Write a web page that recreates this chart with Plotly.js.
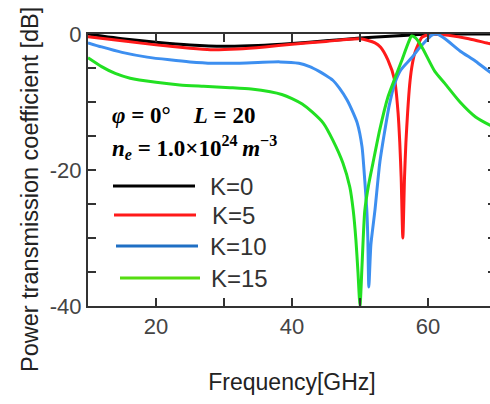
<!DOCTYPE html>
<html>
<head>
<meta charset="utf-8">
<script src="https://cdn.plot.ly/plotly-3.0.1.min.js"></script>
<style>
html,body{margin:0;padding:0;overflow:hidden;background:#fff;}
#chart{width:497px;height:404px;}
</style>
</head>
<body>
<div id="chart"></div>
<script>
// ---- data ----
const seriesNames = ["K=0", "K=5", "K=10", "K=15"];

const freqK0 = [10, 12, 15, 20, 25, 30, 35, 40, 45, 50, 55, 58, 60, 62, 65, 70];
const dbK0   = [0, -0.3, -0.7, -1.2, -1.6, -1.8, -1.7, -1.4, -1.0, -0.6, -0.3, -0.1, 0, 0, 0, 0];

const freqK5 = [10, 15, 20, 25, 28, 32, 36, 40, 45, 50, 52.2, 53, 54.1, 55.1, 55.6, 55.85, 56.05, 56.3, 56.55, 56.75, 57.0, 57.3, 57.6, 58.0, 58.4, 59.1, 60, 61, 63, 66, 69, 70];
const dbK5   = [-0.4, -1.0, -1.6, -2.1, -2.3, -2.2, -1.9, -1.5, -1.1, -0.7, -1.3, -1.9, -3.8, -6.8, -11.6, -16, -21, -30, -21, -16, -11.6, -7.5, -5, -3, -1.9, -0.5, -0.1, 0, -0.2, -0.7, -1.4, -1.6];

const freqK10 = [10, 12, 15, 18.7, 22, 25, 28.4, 32, 35, 38.2, 41, 42.6, 44, 45, 46, 47, 48.1, 49, 49.6, 50.3, 50.7, 51.0, 51.15, 51.3, 51.6, 52.2, 52.9, 53.6, 54.3, 55.1, 56, 57.6, 58.6, 59.6, 60.5, 61.3, 62.5, 64.7, 67, 69.1, 70];
const dbK10   = [-1.3, -1.9, -2.7, -3.4, -3.8, -4.1, -4.3, -4.3, -4.2, -4.1, -4.3, -4.8, -5.5, -6.1, -6.8, -8, -9.7, -11.6, -13.1, -16.6, -21.5, -25.9, -30, -37.2, -31, -25.9, -19, -14.5, -10.5, -7.3, -5.3, -3.5, -2.2, -1.1, -0.2, 0, -0.7, -2.5, -4, -5.6, -6.2];

const freqK15 = [10, 12, 14, 16.2, 20, 23.5, 27, 30.9, 34, 36.8, 38.5, 40, 41.5, 43, 44.6, 46, 47.5, 48.5, 49, 49.4, 49.7, 50, 50.3, 50.7, 51.3, 51.9, 52.9, 54.1, 55.1, 56.1, 57.1, 57.6, 58.2, 59.1, 61, 62.5, 64.7, 67, 69.1, 70];
const dbK15   = [-3.5, -4.8, -5.8, -6.5, -7.1, -7.5, -7.7, -7.9, -8.1, -8.5, -8.9, -9.5, -10.3, -11.5, -13.1, -15.6, -19, -22.5, -25.9, -30.3, -35, -40, -34, -26, -22, -19, -14.1, -9.3, -6.6, -4, -1.3, -0.3, -0.6, -1.9, -5.5, -7.3, -10, -12.2, -13.4, -13.8];

const xTickVals = [10, 20, 30, 40, 50, 60, 70];
const xTickText = ["", "20", "", "40", "", "60", ""];
const yTickVals = [0, -5, -10, -15, -20, -25, -30, -35, -40];
const yTickText = ["0", "", "", "", "-20", "", "", "", "-40"];

const curveColors  = ["#000000", "#ff1a1a", "#3d8ff0", "#22e022"];
const legendColors = ["#000000", "#ff1a1a", "#1f6fc4", "#55dd11"];

// ---- plot ----
const xs = [freqK0, freqK5, freqK10, freqK15];
const ys = [dbK0, dbK5, dbK10, dbK15];
const traces = seriesNames.map((n, i) => ({
  x: xs[i], y: ys[i], name: n, type: "scatter", mode: "lines",
  line: {color: curveColors[i], width: 3, shape: "spline", smoothing: 0.6},
  showlegend: false
}));

const W = 408, H = 272, L = 88, T = 34;
const px = v => (v - L) / W;
const py = v => (T + H - v) / H;

const legendRows = [
  {y: 186, x0: 113, x1: 195, tx: 208},
  {y: 215, x0: 114, x1: 196, tx: 210},
  {y: 246, x0: 116, x1: 198, tx: 208},
  {y: 278, x0: 120, x1: 200, tx: 209}
];

const shapes = legendRows.map((r, i) => ({
  type: "line", xref: "paper", yref: "paper",
  x0: px(r.x0), x1: px(r.x1), y0: py(r.y), y1: py(r.y),
  line: {color: legendColors[i], width: 3}
}));

const annotations = legendRows.map((r, i) => ({
  xref: "paper", yref: "paper", x: px(r.tx), y: py(r.y),
  xanchor: "left", yanchor: "middle", showarrow: false,
  text: seriesNames[i],
  font: {family: "Liberation Sans, Arial, sans-serif", size: 24, color: "#333"}
}));

annotations.push({
  xref: "paper", yref: "paper", x: px(110), y: py(115),
  xanchor: "left", yanchor: "middle", showarrow: false,
  text: "<b><i>\u03c6</i> = 0\u00b0\u00a0\u00a0\u00a0\u00a0<i>L</i> = 20</b>",
  font: {family: "Liberation Serif, Times New Roman, serif", size: 23, color: "#000"}
});
annotations.push({
  xref: "paper", yref: "paper", x: px(110), y: py(147),
  xanchor: "left", yanchor: "middle", showarrow: false,
  text: "<b><i>n</i><sub><i>e</i></sub> = 1.0\u00d710<sup>24</sup>\u2009<i>m</i><sup>\u22123</sup></b>",
  font: {family: "Liberation Serif, Times New Roman, serif", size: 23, color: "#000"}
});
annotations.push({
  xref: "paper", yref: "paper", x: px(30), y: py(190),
  xanchor: "center", yanchor: "middle", showarrow: false, textangle: -90,
  text: "Power transmission coefficient [dB]",
  font: {family: "Liberation Sans, Arial, sans-serif", size: 23.5, color: "#222"}
});

const axisCommon = {
  showline: true, mirror: "ticks", linecolor: "#333", linewidth: 2,
  ticks: "inside", ticklen: 8, tickwidth: 2, tickcolor: "#333",
  showgrid: false, zeroline: false,
  tickfont: {family: "Liberation Sans, Arial, sans-serif", size: 22, color: "#444"}
};

const layout = {
  width: 497, height: 404,
  margin: {l: L, r: 497 - L - W, t: T, b: 404 - T - H},
  paper_bgcolor: "#fff", plot_bgcolor: "#fff",
  xaxis: Object.assign({}, axisCommon, {
    range: [10, 70], tickmode: "array", tickvals: xTickVals, ticktext: xTickText,
    title: {text: "Frequency[GHz]", standoff: 35,
      font: {family: "Liberation Sans, Arial, sans-serif", size: 23, color: "#222"}}
  }),
  yaxis: Object.assign({}, axisCommon, {
    range: [-40, 0], tickmode: "array", tickvals: yTickVals, ticktext: yTickText
  }),
  shapes: shapes,
  annotations: annotations
};

Plotly.newPlot("chart", traces, layout, {displayModeBar: false, staticPlot: true});
</script>
</body>
</html>
